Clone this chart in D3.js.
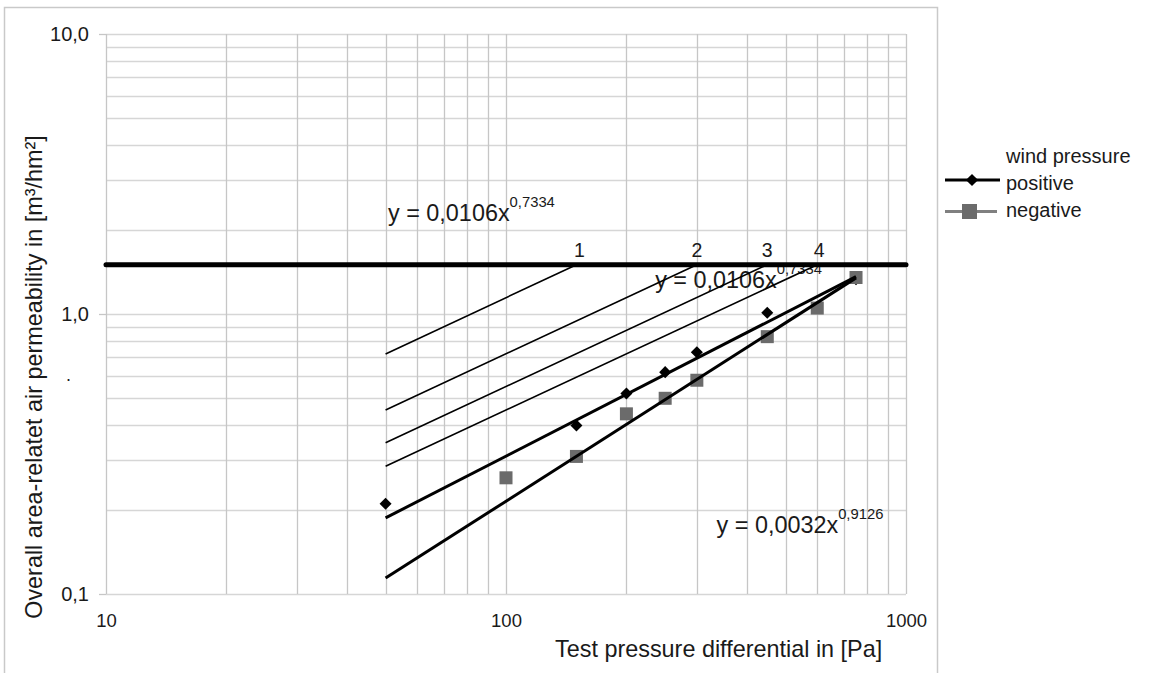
<!DOCTYPE html>
<html>
<head>
<meta charset="utf-8">
<script src="https://cdn.jsdelivr.net/npm/d3@7"></script>
<style>
  html, body { margin: 0; padding: 0; background: #fff; }
  svg { display: block; }
  text { font-family: "Liberation Sans", Arial, sans-serif; fill: #1a1a1a; }
</style>
</head>
<body>
<svg id="chart" width="1150" height="673"></svg>
<script>
// ---- data ----
const xDomain = [10, 1000];
const yDomain = [0.1, 10];
const xTickLabels = ["10", "100", "1000"];
const xTickValues = [10, 100, 1000];
const yTickLabels = ["0,1", "1,0", "10,0"];
const yTickValues = [0.1, 1, 10];

const posPressure = [50, 150, 200, 250, 300, 450, 750];
const posPerm     = [0.21, 0.40, 0.52, 0.62, 0.73, 1.01, 1.33];
const negPressure = [100, 150, 200, 250, 300, 450, 600, 750];
const negPerm     = [0.26, 0.31, 0.44, 0.50, 0.58, 0.83, 1.05, 1.35];

// trend lines (power fits), endpoints
const trendPosX = [50, 750];
const trendPosY = [0.187, 1.36];
const trendNegX = [50, 750];
const trendNegY = [0.114, 1.346];

// class limit lines 1..4
const classNames    = ["1", "2", "3", "4"];
const classStartX   = [50, 50, 50, 50];
const classStartY   = [0.72, 0.454, 0.347, 0.286];
const classEndX     = [150, 300, 450, 600];
const limitValue    = 1.5;

// equation annotations
const eqMain  = ["y = 0,0106x", "y = 0,0106x", "y = 0,0032x"];
const eqExp   = ["0,7334", "0,7334", "0,9126"];
const eqAtX   = [50.7, 236, 336];
const eqAtY   = [2.15, 1.238, 0.165];

const legendLabels = ["positive", "negative"];

// ---- drawing ----
const svg = d3.select("#chart");
const plot = { left: 106, right: 906, top: 34, bottom: 594 };

const x = d3.scaleLog().domain(xDomain).range([plot.left, plot.right]);
const y = d3.scaleLog().domain(yDomain).range([plot.bottom, plot.top]);

// outer frame
svg.append("rect")
  .attr("x", 4.5).attr("y", 7.5)
  .attr("width", 933).attr("height", 700)
  .attr("fill", "none").attr("stroke", "#c9c9c9").attr("stroke-width", 1.5);

// grid
const gx = x.ticks();
const gy = y.ticks();
svg.append("g").selectAll("line").data(gy).join("line")
  .attr("x1", plot.left).attr("x2", plot.right)
  .attr("y1", d => Math.round(y(d)) + 0.5).attr("y2", d => Math.round(y(d)) + 0.5)
  .attr("stroke", "#d6d6d6").attr("stroke-width", 1.3);
svg.append("g").selectAll("line").data(gx).join("line")
  .attr("y1", plot.top).attr("y2", plot.bottom)
  .attr("x1", d => Math.round(x(d)) + 0.5).attr("x2", d => Math.round(x(d)) + 0.5)
  .attr("stroke", "#c6c6c6").attr("stroke-width", 1.3);

// y axis ticks (outward) + labels
const yAxis = d3.axisLeft(y).tickValues(yTickValues)
  .tickFormat((d, i) => yTickLabels[i]).tickSize(7).tickPadding(10);
const ya = svg.append("g").attr("transform", `translate(${plot.left},0)`).call(yAxis);
ya.select(".domain").remove();
ya.selectAll(".tick line").attr("stroke", "#c6c6c6").attr("stroke-width", 1.3);
ya.selectAll(".tick text").attr("font-size", 20).attr("fill", "#1a1a1a")
  .attr("font-family", "Liberation Sans, Arial, sans-serif");

// x axis labels
const xAxis = d3.axisBottom(x).tickValues(xTickValues)
  .tickFormat((d, i) => xTickLabels[i]).tickSize(0).tickPadding(20);
const xa = svg.append("g").attr("transform", `translate(0,${plot.bottom})`).call(xAxis);
xa.select(".domain").remove();
xa.selectAll(".tick text").attr("font-size", 18.5).attr("fill", "#1a1a1a")
  .attr("font-family", "Liberation Sans, Arial, sans-serif");

// stray dot near y axis
svg.append("text").attr("x", 66).attr("y", 381).attr("font-size", 18).text(".");

// axis titles
svg.append("text")
  .attr("x", 555).attr("y", 657)
  .attr("font-size", 23.4)
  .text("Test pressure differential in [Pa]");
svg.append("text")
  .attr("transform", `translate(42,377) rotate(-90)`)
  .attr("text-anchor", "middle")
  .attr("font-size", 23.4)
  .text("Overall area-relatet air permeability in [m³/hm²]");

// equations (drawn under the lines)
const eqG = svg.append("g");
eqMain.forEach((t, i) => {
  const tx = eqG.append("text")
    .attr("x", x(eqAtX[i])).attr("y", y(eqAtY[i]))
    .attr("font-size", 23.4);
  tx.append("tspan").text(t);
  tx.append("tspan").attr("dy", -14).attr("font-size", 14.8).text(eqExp[i]);
});

// class labels
svg.append("g").selectAll("text").data(classNames).join("text")
  .attr("x", (d, i) => x(classEndX[i]) + (i === 0 ? 3 : (i === 3 ? 2 : 0)))
  .attr("y", y(limitValue) - 8)
  .attr("text-anchor", "middle")
  .attr("font-size", 19.5)
  .text(d => d);

// markers: positive (diamonds) then negative (squares)
const diamond = d3.symbol().type(d3.symbolDiamond2).size(92);
svg.append("g").selectAll("path").data(posPressure).join("path")
  .attr("d", diamond)
  .attr("transform", (d, i) => `translate(${x(d)},${y(posPerm[i])})`)
  .attr("fill", "#000");
svg.append("g").selectAll("rect").data(negPressure).join("rect")
  .attr("x", d => x(d) - 6.5).attr("y", (d, i) => y(negPerm[i]) - 6.5)
  .attr("width", 13).attr("height", 13)
  .attr("fill", "#6b6b6b");

// class lines
const line = d3.line().x(d => x(d[0])).y(d => y(d[1]));
svg.append("g").selectAll("path").data(classNames).join("path")
  .attr("d", (d, i) => line([[classStartX[i], classStartY[i]], [classEndX[i], limitValue]]))
  .attr("fill", "none").attr("stroke", "#000").attr("stroke-width", 1.6);

// trend lines
svg.append("path")
  .attr("d", line(trendPosX.map((v, i) => [v, trendPosY[i]])))
  .attr("fill", "none").attr("stroke", "#000").attr("stroke-width", 3);
svg.append("path")
  .attr("d", line(trendNegX.map((v, i) => [v, trendNegY[i]])))
  .attr("fill", "none").attr("stroke", "#000").attr("stroke-width", 3);

// limit line
svg.append("path")
  .attr("d", line([[xDomain[0], limitValue], [xDomain[1], limitValue]]))
  .attr("fill", "none").attr("stroke", "#000").attr("stroke-width", 5)
  .attr("stroke-linecap", "round");

// legend
const lg = svg.append("g");
lg.append("text").attr("x", 1006).attr("y", 163).attr("font-size", 20).text("wind pressure");
lg.append("line").attr("x1", 945).attr("x2", 1000).attr("y1", 180).attr("y2", 180)
  .attr("stroke", "#000").attr("stroke-width", 3);
lg.append("path").attr("d", d3.symbol().type(d3.symbolDiamond2).size(95))
  .attr("transform", "translate(972,180)").attr("fill", "#000");
lg.append("text").attr("x", 1006).attr("y", 190).attr("font-size", 20).text(legendLabels[0]);
lg.append("line").attr("x1", 945).attr("x2", 997).attr("y1", 211.5).attr("y2", 211.5)
  .attr("stroke", "#808080").attr("stroke-width", 3);
lg.append("rect").attr("x", 962).attr("y", 204).attr("width", 15).attr("height", 15)
  .attr("fill", "#6b6b6b");
lg.append("text").attr("x", 1006).attr("y", 217).attr("font-size", 20).text(legendLabels[1]);
</script>
</body>
</html>
